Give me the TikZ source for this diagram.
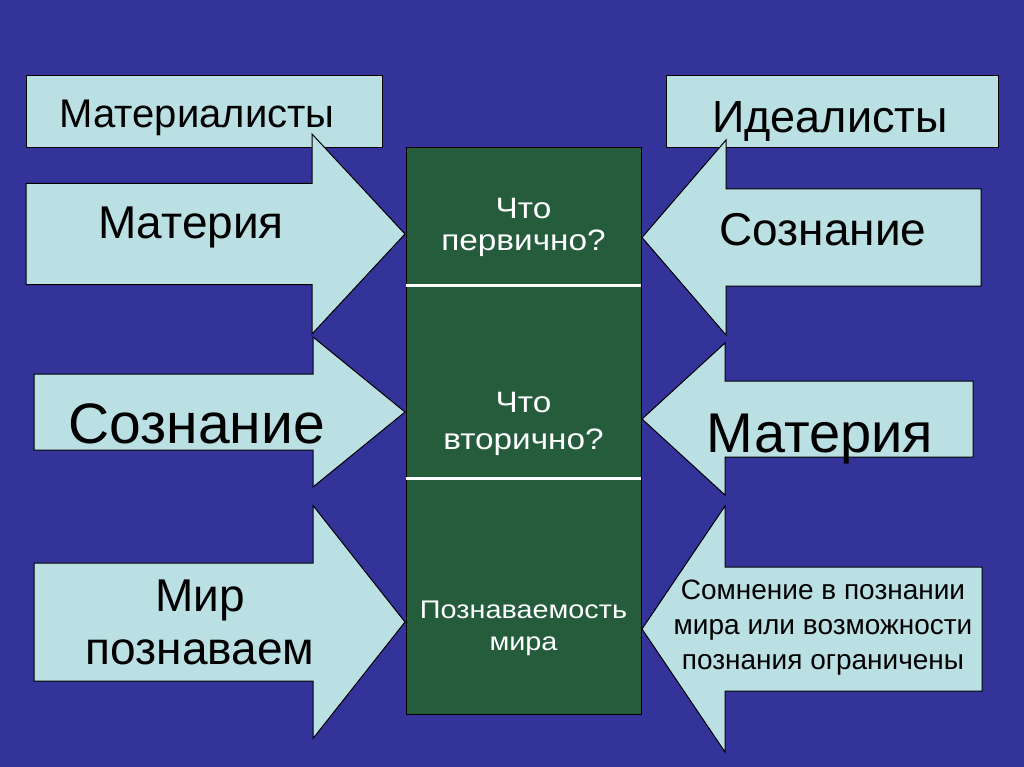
\documentclass[tikz,border=0pt]{standalone}
\usepackage{fontspec}
\setmainfont{Liberation Sans}
\newfontfamily\widefont{Liberation Sans}[FakeStretch=1.13]
\definecolor{slidebg}{RGB}{51,51,153}
\definecolor{panelfill}{RGB}{187,224,228}
\definecolor{marble}{RGB}{36,92,60}

\begin{document}
\begin{tikzpicture}[x=1pt, y=-1pt,
    panel/.style={fill=panelfill, draw=black, line width=1pt},
    quest/.style={text=white, align=center}]
    \fill[slidebg] (0,0) rectangle (1024,767);

    % top boxes
    \draw[panel] (26,76) rectangle (382,148);
    \draw[panel] (666,76) rectangle (998,148);

    % arrows: outer edge / head base / tip / centre / half shaft / half head
    \foreach \xa/\xb/\xt/\cy/\sh/\hh in {26/312/405/234/50.5/100, 34/313/405/412/38/75,
        34/313/405/622/59/116.5, 981/726/642/237.5/48.5/97.5,
        973/725/642/419/38/76, 982/725/642/629/62/123}
      \draw[panel] (\xa,\cy-\sh) -- (\xb,\cy-\sh) -- (\xb,\cy-\hh) -- (\xt,\cy)
          -- (\xb,\cy+\hh) -- (\xb,\cy+\sh) -- (\xa,\cy+\sh) -- cycle;

    % centre column
    \draw[fill=marble, draw=black, line width=1pt] (406,148) rectangle (641,714);
    \draw[white, line width=3pt] (406,285) -- (641,285);
    \draw[white, line width=3pt] (406,478) -- (641,478);

    \node[anchor=base, font=\fontsize{40}{46}\selectfont] (mat) at (197,128) {Материалисты};
    \node[anchor=base, font=\fontsize{45}{52}\selectfont] (ide) at (830,133) {Идеалисты};

    \node[anchor=base, font=\fontsize{46}{52}\selectfont] (l1) at (191,238) {Материя};
    \node[anchor=base, font=\fontsize{57}{64}\selectfont] (l2) at (196.5,443) {Сознание};
    \node[align=center, font=\fontsize{46}{53}\selectfont] (l3) at (200,622) {Мир\\познаваем};

    \node[anchor=base, font=\fontsize{46}{52}\selectfont] (r1) at (823,245) {Сознание};
    \node[anchor=base, font=\fontsize{56}{64}\selectfont] (r2) at (820,452) {Материя};
    \node[align=center, font=\fontsize{28}{35}\selectfont] (r3) at (823,628)
        {Сомнение в познании\\мира или возможности\\познания ограничены};

    \node[quest, font=\widefont\fontsize{29.5}{32}\selectfont] (q1) at (523.5,227.5) {Что\\первично?};
    \node[quest, font=\widefont\fontsize{29.5}{37}\selectfont] (q2) at (523.5,424) {Что\\вторично?};
    \node[quest, font=\widefont\fontsize{25.5}{32}\selectfont] (q3) at (523.5,628.5) {Познаваемость\\мира};
\end{tikzpicture}
\end{document}
